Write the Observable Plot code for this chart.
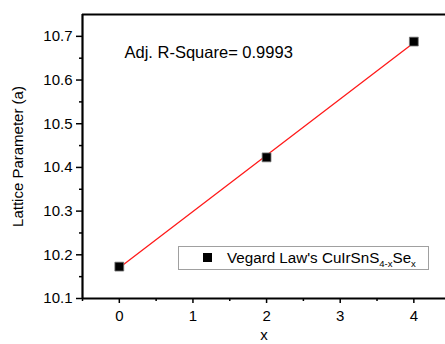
<!DOCTYPE html>
<html>
<head>
<meta charset="utf-8">
<script src="https://cdn.jsdelivr.net/npm/d3@7"></script>
<script src="https://cdn.jsdelivr.net/npm/@observablehq/plot@0.6"></script>
<style>
  html, body { margin: 0; padding: 0; background: #fff; overflow: hidden; }
  #wrap { position: relative; width: 445px; height: 344px; font-family: "Liberation Sans", Arial, sans-serif; }
  #legend { position: absolute; left: 178px; top: 246px; width: 251px; height: 24px; border: 1px solid #a0a0a0; box-sizing: border-box; background: #fff; font-size: 15.2px; line-height: 22px; white-space: nowrap; }
  #legend .sw { position: absolute; left: 24px; top: 6px; width: 9px; height: 9px; background: #000; }
  #legend .lb { position: absolute; left: 48px; top: 0; }
  #legend sub { font-size: 9.5px; vertical-align: -4px; line-height: 0; }
</style>
</head>
<body>
<div id="wrap"></div>
<script>
const xValues = [0, 2, 4];
const latticeValues = [10.173, 10.423, 10.688];
const xTicks = [0, 1, 2, 3, 4];
const xMinorTicks = [-0.5, 0.5, 1.5, 2.5, 3.5];
const yTicks = [10.1, 10.2, 10.3, 10.4, 10.5, 10.6, 10.7];
const yMinorTicks = [10.15, 10.25, 10.35, 10.45, 10.55, 10.65];
const annotation = ["Adj. R-Square= 0.9993"];
const seriesName = "Vegard Law's CuIrSnS";

const data = xValues.map((x, i) => ({x, a: latticeValues[i]}));

const chart = Plot.plot({
  width: 445,
  height: 344,
  marginLeft: 82,
  marginRight: 0,
  marginTop: 14,
  marginBottom: 46,
  style: {fontFamily: "'Liberation Sans', Arial, sans-serif", fontSize: "15px", color: "#000", background: "#fff"},
  x: {domain: [-0.5, 4.43]},
  y: {domain: [10.1, 10.75]},
  marks: [
    Plot.axisX({ticks: xMinorTicks, tickSize: 3, text: null, label: null, strokeWidth: 1.5}),
    Plot.axisX({ticks: xTicks, tickSize: 5, tickPadding: 7, strokeWidth: 1.5, tickFormat: d3.format("d"),
      label: "x", labelAnchor: "center", labelArrow: "none", labelOffset: 41, fontSize: 15}),
    Plot.axisY({ticks: yMinorTicks, tickSize: 3, text: null, label: null, strokeWidth: 1.5}),
    Plot.axisY({ticks: yTicks, tickSize: 6, tickPadding: 4, strokeWidth: 1.5, tickFormat: d3.format(".1f"),
      label: "Lattice Parameter (a)", labelAnchor: "center", labelArrow: "none", labelOffset: 70, fontSize: 15}),
    Plot.ruleX([-0.5], {strokeWidth: 2.2, stroke: "#000"}),
    Plot.ruleY([10.1], {strokeWidth: 2.2, stroke: "#000"}),
    Plot.ruleY([10.75], {strokeWidth: 2, stroke: "#000"}),
    Plot.linearRegressionY(data, {x: "x", y: "a", stroke: "#ff1a1a", strokeWidth: 1.3, ci: 0}),
    Plot.dot(data, {x: "x", y: "a", symbol: "square", r: 5, fill: "#000", stroke: "#777", strokeWidth: 0.8}),
    Plot.text(annotation, {frameAnchor: "top-left", dx: 42, dy: 32, textAnchor: "start", fontSize: 16.5, fill: "#000"})
  ]
});

const wrap = document.getElementById("wrap");
wrap.appendChild(chart);
const legend = document.createElement("div");
legend.id = "legend";
legend.innerHTML = `<span class="sw"></span><span class="lb">${seriesName}<sub>4-x</sub>Se<sub>x</sub></span>`;
wrap.appendChild(legend);
</script>
</body>
</html>
